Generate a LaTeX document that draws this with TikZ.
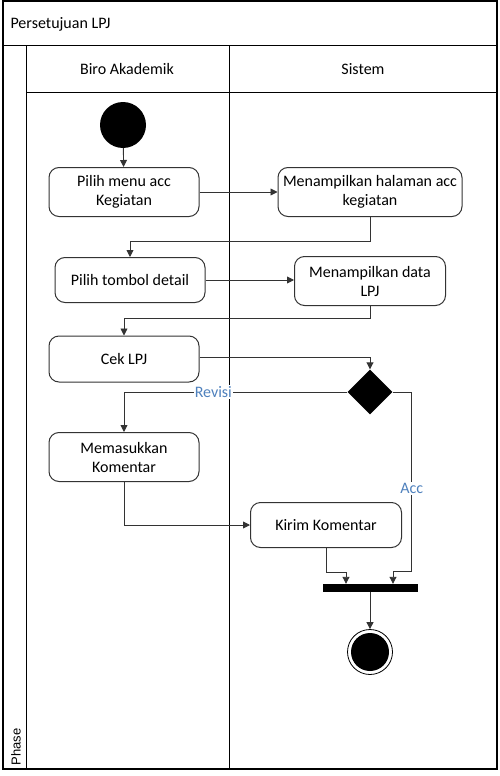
\documentclass[tikz,border=0pt]{standalone}
\usepackage{fontspec}
\setmainfont{Carlito}
\newfontfamily\phasefont{Liberation Sans}
\usetikzlibrary{positioning, shapes.geometric, arrows.meta}
\definecolor{guardblue}{RGB}{79,129,189}
\begin{document}
\begin{tikzpicture}[x=1pt, y=-1pt, >={Triangle[length=7pt, width=7pt]},
    every node/.style={font=\fontsize{16}{19}\selectfont},
    activity/.style={draw=black!80, line width=1pt, rounded corners=10pt, align=center, inner sep=2pt},
    flow/.style={->, draw=black!80, line width=0.9pt},
    guard/.style={fill=white, text=guardblue, inner sep=1pt}]
  \useasboundingbox (0,0) rectangle (499,776);
  % swimlanes
  \draw[line width=1.2pt] (3,1) rectangle (497,769);
  \draw[line width=1pt] (3,46) -- (497,46);
  \draw[line width=1pt] (26,92) -- (497,92);
  \draw[line width=1pt] (26,46) -- (26,769);
  \draw[line width=1pt] (229,46) -- (229,769);
  \node[anchor=west] (title) at (7,24) {Persetujuan LPJ};
  \node (lane1) at (127,69) {Biro Akademik};
  \node (lane2) at (363,69) {Sistem};
  \node[rotate=90, font=\phasefont\fontsize{13}{15}\selectfont] (phase) at (16,747) {Phase};
  % activities
  \node[circle, fill=black, minimum size=46pt, inner sep=0pt] (start) at (123,125) {};
  \node[activity, minimum width=150pt, minimum height=49pt] (menu) at (124,192) {Pilih menu acc\\Kegiatan};
  \node[activity, minimum width=184pt, minimum height=49pt] (halaman) at (370,192) {Menampilkan halaman acc\\kegiatan};
  \node[activity, minimum width=150pt, minimum height=45pt] (detail) at (130,280) {Pilih tombol detail};
  \node[activity, minimum width=151pt, minimum height=49pt] (data) at (370,281) {Menampilkan data\\LPJ};
  \node[activity, minimum width=150pt, minimum height=46pt] (cek) at (124,359) {Cek LPJ};
  \node[diamond, fill=black, minimum width=45pt, minimum height=45pt, inner sep=0pt] (decision) at (370,392) {};
  \node[activity, minimum width=150pt, minimum height=49pt] (komentar) at (124,457) {Memasukkan\\Komentar};
  \node[activity, minimum width=151pt, minimum height=45pt] (kirim) at (326,525) {Kirim Komentar};
  \node[rectangle, fill=black, minimum width=95pt, minimum height=8pt, inner sep=0pt] (bar) at (370,588) {};
  \node[circle, draw, line width=0.8pt, minimum size=45pt, inner sep=0pt] (end) at (370,652) {};
  \node[circle, fill=black, minimum size=38pt, inner sep=0pt] (endDot) at (end) {};
  % flows
  \draw[flow] (start) -- (menu);
  \draw[flow] (menu) -- (halaman);
  \draw[flow] (halaman.south) -- ++(0,24) -| (detail.north);
  \draw[flow] (detail.east) -- (detail.east -| data.west);
  \draw[flow] (data.south) -- ++(0,12) -| (cek.north);
  \draw[flow] ([yshift=2pt]cek.east) -| (decision.north);
  \draw[flow] (decision.west) -| node[guard, pos=0.3] {Revisi} (komentar.north);
  \draw[flow] (decision.east) -- ++(19,0) -- node[guard, pos=0.54] {Acc} ++(0,179) -| ([xshift=23pt]bar.north);
  \draw[flow] (komentar.south) |- (kirim.west);
  \draw[flow] (kirim.south) -- ++(0,24) -| ([xshift=-24pt]bar.north);
  \draw[flow] (bar) -- (end);
\end{tikzpicture}
\end{document}
